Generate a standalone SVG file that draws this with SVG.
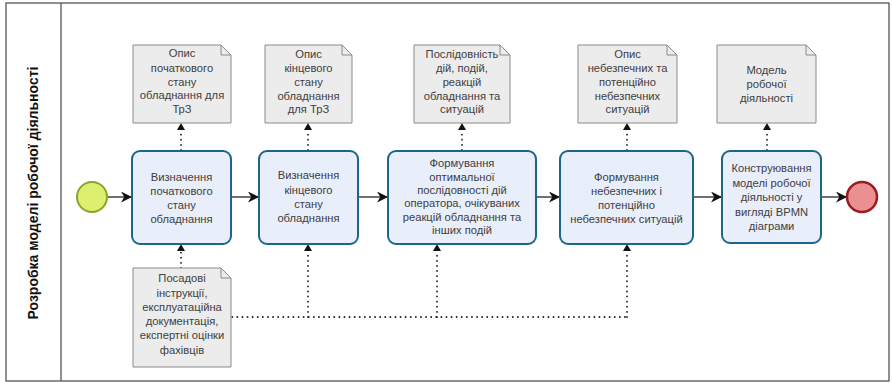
<svg xmlns="http://www.w3.org/2000/svg" width="892" height="383" viewBox="0 0 892 383">
<style>
text{font-family:"Liberation Sans",Arial,sans-serif;font-size:11.2px;fill:#404040;text-anchor:middle}
.lane{font-size:14px;font-weight:bold;fill:#111}
.task{fill:#e9eefb;stroke:#1d6688;stroke-width:2}
.doc{fill:#ececec;stroke:#8a8a8a;stroke-width:1}
.fold{fill:none;stroke:#8a8a8a;stroke-width:1}
.seq{stroke:#222;stroke-width:1.3;fill:none;marker-end:url(#arr)}
.assoc{stroke:#222;stroke-width:1.8;fill:none;stroke-dasharray:0.1 5;stroke-linecap:round}
</style>
<defs>
<marker id="arr" viewBox="0 0 10 10" refX="10" refY="5" markerWidth="11" markerHeight="11" markerUnits="userSpaceOnUse" orient="auto">
<path d="M0,0 L10,5 L0,10 L3,5 z" fill="#111"/>
</marker>
</defs>
<rect width="892" height="383" fill="#fff"/>
<g id="pool">
<rect x="6" y="3" width="883" height="378" fill="none" stroke="#555" stroke-width="1.3"/>
<line x1="61" y1="3" x2="61" y2="381" stroke="#555" stroke-width="1.3"/>
<text class="lane" transform="translate(38,193) rotate(-90)">Розробка моделі робочої діяльності</text>
</g>
<g id="connectors">
<line class="seq" x1="108" y1="197" x2="132" y2="197"/>
<line class="seq" x1="231" y1="197" x2="259" y2="197"/>
<line class="seq" x1="358" y1="197" x2="388" y2="197"/>
<line class="seq" x1="536" y1="197" x2="560" y2="197"/>
<line class="seq" x1="693" y1="197" x2="722" y2="197"/>
<line class="seq" x1="821" y1="197" x2="847" y2="197"/>
<line class="assoc" x1="181" y1="150" x2="181" y2="130"/>
<line class="assoc" x1="308" y1="150" x2="308" y2="130"/>
<line class="assoc" x1="462" y1="150" x2="462" y2="130"/>
<line class="assoc" x1="627" y1="150" x2="627" y2="130"/>
<line class="assoc" x1="767" y1="150" x2="767" y2="130"/>
<path class="assoc" d="M181 268 V252"/>
<path class="assoc" d="M222 317 H627 M308 317 V252 M437 317 V252 M627 317 V252"/>
<g fill="#111">
<path d="M177 130 L181 123 L185 130 z"/>
<path d="M304 130 L308 123 L312 130 z"/>
<path d="M458 130 L462 123 L466 130 z"/>
<path d="M623 130 L627 123 L631 130 z"/>
<path d="M763 130 L767 123 L771 130 z"/>
<path d="M177 251 L181 244 L185 251 z"/>
<path d="M304 251 L308 244 L312 251 z"/>
<path d="M433 251 L437 244 L441 251 z"/>
<path d="M623 251 L627 244 L631 251 z"/>
</g>
</g>
<g id="start"><circle cx="92" cy="197" r="15" fill="#dcef6e" stroke="#86a72c" stroke-width="2"/></g>
<g id="end"><circle cx="862" cy="197" r="15" fill="#ea8f92" stroke="#9c1b1f" stroke-width="2.5"/></g>
<g id="task1"><rect class="task" x="132" y="151" width="99" height="93" rx="8"/>
<text x="181.5" y="181">Визначення</text><text x="181.5" y="195">початкового</text><text x="181.5" y="209">стану</text><text x="181.5" y="223">обладнання</text></g>
<g id="task2"><rect class="task" x="259" y="151" width="99" height="93" rx="8"/>
<text x="308.5" y="179">Визначення</text><text x="308.5" y="194">кінцевого</text><text x="308.5" y="208">стану</text><text x="308.5" y="222">обладнання</text></g>
<g id="task3"><rect class="task" x="388" y="151" width="148" height="93" rx="8"/>
<text x="462" y="167">Формування</text><text x="462" y="181">оптимальної</text><text x="462" y="194">послідовності дій</text><text x="462" y="207">оператора, очікуваних</text><text x="462" y="221">реакцій обладнання та</text><text x="462" y="234">інших подій</text></g>
<g id="task4"><rect class="task" x="560" y="151" width="133" height="93" rx="8"/>
<text x="626.5" y="181">Формування</text><text x="626.5" y="195">небезпечних і</text><text x="626.5" y="209">потенційно</text><text x="626.5" y="223">небезпечних ситуацій</text></g>
<g id="task5"><rect class="task" x="722" y="151" width="99" height="92" rx="8"/>
<text x="771.5" y="172">Конструювання</text><text x="771.5" y="187">моделі робочої</text><text x="771.5" y="201">діяльності у</text><text x="771.5" y="216">вигляді BPMN</text><text x="771.5" y="230">діаграми</text></g>
<g id="doc1"><path class="doc" d="M133 45 H221 L231 55 V123 H133 Z"/><path class="fold" d="M221 45 V55 H231"/>
<text x="182" y="57">Опис</text><text x="182" y="72">початкового</text><text x="182" y="86">стану</text><text x="182" y="99">обладнання для</text><text x="182" y="113">ТрЗ</text></g>
<g id="doc2"><path class="doc" d="M265 45 H342 L352 55 V123 H265 Z"/><path class="fold" d="M342 45 V55 H352"/>
<text x="308.5" y="58">Опис</text><text x="308.5" y="72">кінцевого</text><text x="308.5" y="86">стану</text><text x="308.5" y="100">обладнання</text><text x="308.5" y="113">для ТрЗ</text></g>
<g id="doc3"><path class="doc" d="M414 45 H500 L510 55 V123 H414 Z"/><path class="fold" d="M500 45 V55 H510"/>
<text x="462" y="58">Послідовність</text><text x="462" y="72">дій, подій,</text><text x="462" y="86">реакцій</text><text x="462" y="100">обладнання та</text><text x="462" y="113">ситуацій</text></g>
<g id="doc4"><path class="doc" d="M578 45 H667 L677 55 V123 H578 Z"/><path class="fold" d="M667 45 V55 H677"/>
<text x="627.5" y="58">Опис</text><text x="627.5" y="72">небезпечних та</text><text x="627.5" y="86">потенційно</text><text x="627.5" y="100">небезпечних</text><text x="627.5" y="113">ситуацій</text></g>
<g id="doc5"><path class="doc" d="M717 45 H806 L816 55 V123 H717 Z"/><path class="fold" d="M806 45 V55 H816"/>
<text x="766.5" y="74">Модель</text><text x="766.5" y="88">робочої</text><text x="766.5" y="102">діяльності</text></g>
<g id="doc6"><path class="doc" d="M133 268 H221 L231 278 V367 H133 Z"/><path class="fold" d="M221 268 V278 H231"/>
<text x="182" y="282">Посадові</text><text x="182" y="297">інструкції,</text><text x="182" y="311">експлуатаційна</text><text x="182" y="325">документація,</text><text x="182" y="339">експертні оцінки</text><text x="182" y="354">фахівців</text></g>
</svg>
